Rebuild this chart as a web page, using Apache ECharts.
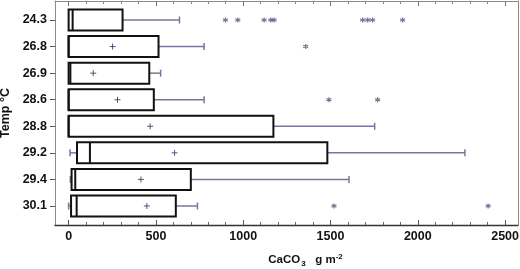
<!DOCTYPE html>
<html>
<head>
<meta charset="utf-8">
<script src="https://cdn.jsdelivr.net/npm/echarts@6/dist/echarts.min.js"></script>
<style>
html, body { margin: 0; padding: 0; background: #fff; }
#main { width: 520px; height: 269px; }
</style>
</head>
<body>
<div id="main"></div>
<script>
// temperature groups, top to bottom
var temps = ['24.3', '26.8', '26.9', '28.6', '28.8', '29.2', '29.4', '30.1'];
// [min, q1, median, q3, max] per group
var boxes = [
    [0, 0, 23, 309, 635],
    [0, 0, 0, 515, 776],
    [0, 0, 10, 462, 527],
    [0, 0, 0, 488, 776],
    [0, 0, 0, 1173, 1753],
    [8, 48, 122, 1482, 2270],
    [10, 17, 38, 700, 1606],
    [0, 14, 46, 614, 738]
];
var means = [null, 252, 141, 280, 467, 607, 414, 448];
// outliers: [value, group index]
var outliers = [
    [898, 0], [969, 0], [1120, 0], [1158, 0], [1177, 0],
    [1684, 0], [1713, 0], [1741, 0], [1913, 0],
    [1358, 1],
    [1491, 3], [1770, 3],
    [1520, 7], [2403, 7]
];
var majorTicks = [0, 500, 1000, 1500, 2000, 2500];
var minorTicks = [100, 200, 300, 400, 600, 700, 800, 900, 1100, 1200, 1300, 1400,
                  1600, 1700, 1800, 1900, 2100, 2200, 2300, 2400];

showChart();

function showChart() {
    var myChart = echarts.init(document.getElementById('main'));
    var xMin = -78, xMax = 2574;
    var font = 'Liberation Sans, Arial, sans-serif';
    var idx = temps.map(function (t, i) { return i; });

    var boxData = boxes.map(function (b, i) { return [i].concat(b); });
    var meanData = [];
    means.forEach(function (m, i) { if (m !== null) meanData.push([m, i]); });

    function renderBox(params, api) {
        var i = api.value(0);
        var mn = api.value(1), q1 = api.value(2), md = api.value(3), q3 = api.value(4), mx = api.value(5);
        var h = api.size([0, 0.79])[1];
        var capH = 7;
        var pMin = api.coord([mn, i]), pQ1 = api.coord([q1, i]), pMd = api.coord([md, i]);
        var pQ3 = api.coord([q3, i]), pMx = api.coord([mx, i]);
        var y = pQ1[1];
        var wStyle = { stroke: '#77779a', lineWidth: 1.5 };
        var children = [];
        if (q3 < mx) {
            children.push({ type: 'line', shape: { x1: pQ3[0], y1: y, x2: pMx[0], y2: y }, style: wStyle });
            children.push({ type: 'line', shape: { x1: pMx[0], y1: y - capH / 2, x2: pMx[0], y2: y + capH / 2 }, style: wStyle });
        }
        if (mn < q1) {
            children.push({ type: 'line', shape: { x1: pMin[0], y1: y, x2: pQ1[0], y2: y }, style: wStyle });
            children.push({ type: 'line', shape: { x1: pMin[0], y1: y - capH / 2, x2: pMin[0], y2: y + capH / 2 }, style: wStyle });
        }
        children.push({
            type: 'rect',
            shape: { x: pQ1[0], y: y - h / 2, width: pQ3[0] - pQ1[0], height: h },
            style: { fill: '#fff', stroke: '#111', lineWidth: 2 }
        });
        children.push({
            type: 'line',
            shape: { x1: pMd[0], y1: y - h / 2, x2: pMd[0], y2: y + h / 2 },
            style: { stroke: '#111', lineWidth: 2 }
        });
        return { type: 'group', children: children };
    }

    var option = {
        animation: false,
        grid: { left: 55, right: 2, top: 1, bottom: 44, containLabel: false, outerBoundsMode: 'none' },
        xAxis: [
            {
                type: 'value', position: 'bottom', min: xMin, max: xMax,
                splitLine: { show: false },
                axisLine: { show: true, onZero: false, lineStyle: { color: '#333', width: 1.3 } },
                axisTick: { show: true, inside: true, length: 5, customValues: majorTicks, lineStyle: { color: '#555' } },
                axisLabel: {
                    customValues: majorTicks, margin: 5,
                    color: '#111', fontSize: 12.5, fontWeight: 'bold', fontFamily: font,
                    formatter: function (v) { return String(v); }
                },
                name: '{b|CaCO}{s|3}{b|   g m}{p|-2}',
                nameLocation: 'middle',
                nameGap: 27,
                nameTextStyle: {
                    padding: [0, 0, 0, 38],
                    rich: {
                        b: { fontSize: 11.5, fontWeight: 'bold', color: '#111', fontFamily: font, lineHeight: 16 },
                        s: { fontSize: 8, fontWeight: 'bold', color: '#111', fontFamily: font, padding: [7, 0, 0, 1], lineHeight: 16 },
                        p: { fontSize: 8, fontWeight: 'bold', color: '#111', fontFamily: font, padding: [0, 0, 7, 0], lineHeight: 16 }
                    }
                }
            },
            {
                type: 'value', position: 'bottom', min: xMin, max: xMax,
                splitLine: { show: false },
                axisLine: { show: false, onZero: false },
                axisTick: { show: true, inside: true, length: 3, customValues: minorTicks, lineStyle: { color: '#666' } },
                axisLabel: { show: false }
            },
            {
                type: 'value', position: 'top', min: xMin, max: xMax,
                splitLine: { show: false },
                axisLine: { show: true, onZero: false, lineStyle: { color: '#8a8a8a', width: 1 } },
                axisTick: { show: true, inside: true, length: 5, customValues: majorTicks, lineStyle: { color: '#777' } },
                axisLabel: { show: false }
            },
            {
                type: 'value', position: 'top', min: xMin, max: xMax,
                splitLine: { show: false },
                axisLine: { show: false, onZero: false },
                axisTick: { show: true, inside: true, length: 3, customValues: minorTicks, lineStyle: { color: '#888' } },
                axisLabel: { show: false }
            }
        ],
        yAxis: [
            {
                type: 'value', inverse: true, min: -0.715, max: 7.715,
                position: 'left',
                splitLine: { show: false },
                axisLine: { show: true, onZero: false, lineStyle: { color: '#8a8a8a', width: 1 } },
                axisTick: { show: true, length: 5, customValues: idx, lineStyle: { color: '#555' } },
                axisLabel: {
                    customValues: idx, margin: 8,
                    color: '#111', fontSize: 12.5, fontWeight: 'bold', fontFamily: font,
                    formatter: function (v) { return temps[Math.round(v)]; }
                },
                name: 'Temp °C',
                nameLocation: 'middle',
                nameGap: 40,
                nameTextStyle: { color: '#111', fontSize: 12.5, fontWeight: 'bold', fontFamily: font }
            },
            {
                type: 'value', inverse: true, min: -0.715, max: 7.715,
                position: 'right',
                splitLine: { show: false },
                axisLine: { show: true, onZero: false, lineStyle: { color: '#8a8a8a', width: 1 } },
                axisTick: { show: false },
                axisLabel: { show: false }
            }
        ],
        series: [
            {
                type: 'custom',
                renderItem: renderBox,
                encode: { x: [1, 2, 3, 4, 5], y: 0 },
                data: boxData,
                z: 2
            },
            {
                type: 'scatter',
                data: meanData,
                symbol: 'path://M0,-4 L0,4 M-4,0 L4,0',
                symbolSize: 6,
                itemStyle: { color: 'none', borderColor: '#2e2e58', borderWidth: 1 },
                z: 3
            },
            {
                type: 'scatter',
                data: outliers,
                symbol: 'path://M0,-4 L0,4 M-3.5,-2 L3.5,2 M-3.5,2 L3.5,-2',
                symbolSize: 5,
                itemStyle: { color: 'none', borderColor: '#4a5575', borderWidth: 1.2 },
                z: 3
            }
        ]
    };
    myChart.setOption(option);
}
</script>
</body>
</html>
